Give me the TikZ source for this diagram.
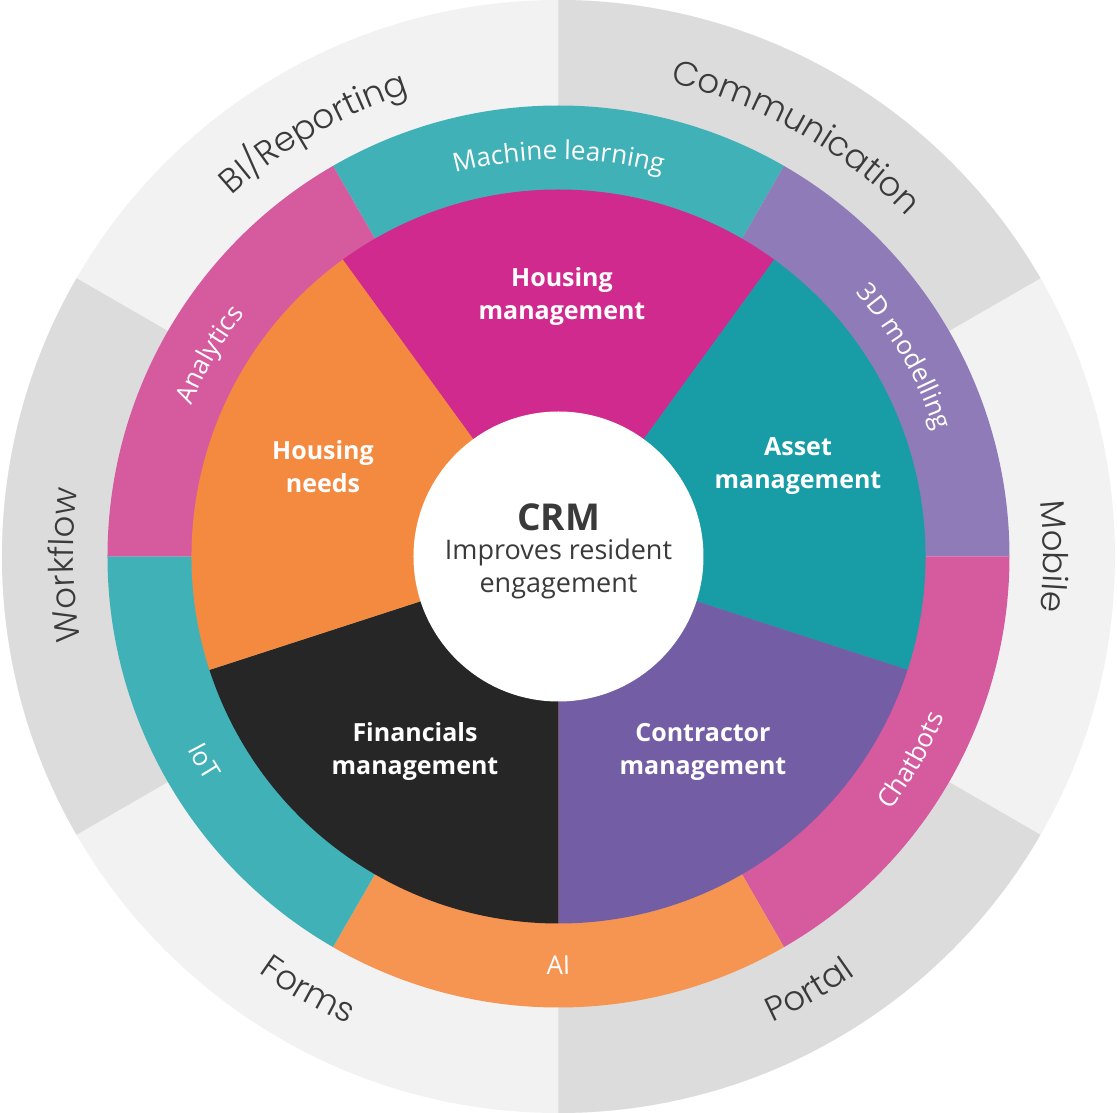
\documentclass[tikz,border=0pt]{standalone}
\usepackage{fontspec}
\setmainfont{Open Sans}
\IfFontExistsTF{Poppins Light}{\newfontfamily\outerfont{Poppins Light}}{\newfontfamily\outerfont{Poppins}}
\usetikzlibrary{decorations.text}
\definecolor{outL}{HTML}{F2F2F2}
\definecolor{outD}{HTML}{DCDCDC}
\definecolor{txtgray}{HTML}{3A3A3A}
\definecolor{ringTeal}{HTML}{41B1B8}
\definecolor{ringPurple}{HTML}{8F7BB8}
\definecolor{ringPink}{HTML}{D65A9E}
\definecolor{ringOrange}{HTML}{F59551}
\definecolor{pieMagenta}{HTML}{D12A8F}
\definecolor{pieTeal}{HTML}{189CA5}
\definecolor{piePurple}{HTML}{735EA6}
\definecolor{pieBlack}{HTML}{262626}
\definecolor{pieOrange}{HTML}{F48A40}
\def\outlbl{\outerfont\fontsize{34}{34}\selectfont\color{txtgray}}
\def\midlbl{\fontsize{26}{26}\selectfont\color{white}}
\tikzset{
  curvetext/.style={decorate, decoration={text along path, text align=center, text={#1}}},
  pielabel/.style={text=white, font=\fontsize{25}{33}\selectfont\bfseries, align=center},
}
\begin{document}
\begin{tikzpicture}[x=1pt,y=1pt]
\useasboundingbox (-558.5,-556.5) rectangle (558.5,556.5);
% outer ring
\fill[outL] (0,0) circle[radius=556.5pt];
\fill[outD] (0,0) -- (30:556.5pt) arc[start angle=30,end angle=90,radius=556.5pt] -- cycle;
\fill[outD] (0,0) -- (-90:556.5pt) arc[start angle=-90,end angle=-30,radius=556.5pt] -- cycle;
\fill[outD] (0,0) -- (150:556.5pt) arc[start angle=150,end angle=210,radius=556.5pt] -- cycle;
% middle ring
\fill[ringTeal] (0,0) -- (60:451pt) arc[start angle=60,end angle=120,radius=451pt] -- cycle;
\fill[ringPurple] (0,0) -- (0:451pt) arc[start angle=0,end angle=60,radius=451pt] -- cycle;
\fill[ringPink] (0,0) -- (-60:451pt) arc[start angle=-60,end angle=0,radius=451pt] -- cycle;
\fill[ringOrange] (0,0) -- (-120:451pt) arc[start angle=-120,end angle=-60,radius=451pt] -- cycle;
\fill[ringTeal] (0,0) -- (180:451pt) arc[start angle=180,end angle=240,radius=451pt] -- cycle;
\fill[ringPink] (0,0) -- (120:451pt) arc[start angle=120,end angle=180,radius=451pt] -- cycle;
% pie
\fill[pieMagenta] (0,0) -- (54:367pt) arc[start angle=54,end angle=126,radius=367pt] -- cycle;
\fill[pieTeal] (0,0) -- (-18:367pt) arc[start angle=-18,end angle=54,radius=367pt] -- cycle;
\fill[piePurple] (0,0) -- (-90:367pt) arc[start angle=-90,end angle=-18,radius=367pt] -- cycle;
\fill[pieBlack] (0,0) -- (-162:367pt) arc[start angle=-162,end angle=-90,radius=367pt] -- cycle;
\fill[pieOrange] (0,0) -- (126:367pt) arc[start angle=126,end angle=198,radius=367pt] -- cycle;
% centre
\fill[white] (0,0) circle[radius=145pt];
% outer labels
\path[curvetext={|\outlbl|Communication}] (100.5:487pt) arc[start angle=100.5,end angle=20.5,radius=487pt];
\path[curvetext={|\outlbl|BI/Reporting}] (160:487pt) arc[start angle=160,end angle=80,radius=487pt];
\path[curvetext={|\outlbl|Mobile}] (40:485pt) arc[start angle=40,end angle=-40,radius=485pt];
\path[curvetext={|\outlbl|Workflow}] (221:485pt) arc[start angle=221,end angle=141,radius=485pt];
\path[curvetext={|\outlbl|Portal}] (-100:513pt) arc[start angle=-100,end angle=-20,radius=513pt];
\path[curvetext={|\outlbl|Forms}] (-160:513pt) arc[start angle=-160,end angle=-80,radius=513pt];
% middle labels
\path[curvetext={|\midlbl|Machine learning}] (130:397pt) arc[start angle=130,end angle=50,radius=397pt];
\path[curvetext={|\midlbl|3D modelling}] (70:397pt) arc[start angle=70,end angle=-10,radius=397pt];
\path[curvetext={|\midlbl|Analytics}] (190:397pt) arc[start angle=190,end angle=110,radius=397pt];
\path[curvetext={|\midlbl|Chatbots}] (-70:418pt) arc[start angle=-70,end angle=10,radius=418pt];
\path[curvetext={|\midlbl|AI}] (-130:418pt) arc[start angle=-130,end angle=-50,radius=418pt];
\path[curvetext={|\midlbl|IoT}] (-190:418pt) arc[start angle=-190,end angle=-110,radius=418pt];
% pie labels
\node[pielabel] (hm) at (3.5,259.5) {Housing\\management};
\node[pielabel] (am) at (239.5,90) {Asset\\management};
\node[pielabel] (cm) at (144.5,-195) {Contractor\\management};
\node[pielabel] (fm) at (-143.5,-195) {Financials\\management};
\node[pielabel] (hn) at (-235.5,90) {Housing\\needs};
% centre text
\node[text=txtgray, font=\fontsize{37}{37}\selectfont\bfseries] (crm) at (0,39.5) {CRM};
\node[text=txtgray, font=\fontsize{27}{33}\selectfont, align=center] (sub) at (0,-12) {Improves resident\\engagement};
\end{tikzpicture}
\end{document}
